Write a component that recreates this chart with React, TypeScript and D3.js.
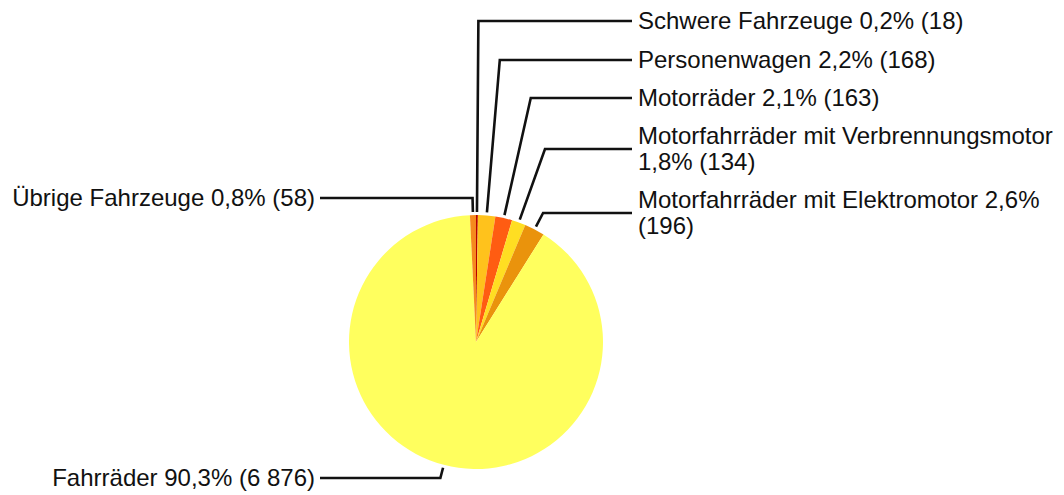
import React, { useEffect, useRef } from 'react';
import * as d3 from 'd3';

// Slices in drawing order, clockwise from 12 o'clock
const categories = [
  'Schwere Fahrzeuge',
  'Personenwagen',
  'Motorräder',
  'Motorfahrräder mit Verbrennungsmotor',
  'Motorfahrräder mit Elektromotor',
  'Fahrräder',
  'Übrige Fahrzeuge',
];
const counts = [18, 168, 163, 134, 196, 6876, 58];
const percents = ['0,2%', '2,2%', '2,1%', '1,8%', '2,6%', '90,3%', '0,8%'];
const countLabels = ['18', '168', '163', '134', '196', '6 876', '58'];

const colors = ['#b80000', '#ffc21c', '#ff5c12', '#ffde22', '#ea930c', '#ffff5e', '#f58a1e'];

// label layout: side, y of the leader line, and text lines
const labelLayout = [
  { side: 'right', y: 21, lines: [`${categories[0]} ${percents[0]} (${countLabels[0]})`] },
  { side: 'right', y: 60, lines: [`${categories[1]} ${percents[1]} (${countLabels[1]})`] },
  { side: 'right', y: 98, lines: [`${categories[2]} ${percents[2]} (${countLabels[2]})`] },
  { side: 'right', y: 149, lines: [categories[3], `${percents[3]} (${countLabels[3]})`] },
  { side: 'right', y: 213, lines: [`${categories[4]} ${percents[4]}`, `(${countLabels[4]})`] },
  { side: 'left', y: 478, lines: [`${categories[5]} ${percents[5]} (${countLabels[5]})`] },
  { side: 'left', y: 198, lines: [`${categories[6]} ${percents[6]} (${countLabels[6]})`] },
];

const App = () => {
  const ref = useRef<SVGSVGElement>(null);

  useEffect(() => {
    const svg = d3.select(ref.current);
    svg.selectAll('*').remove();

    const cx = 476, cy = 342, r = 127;
    const g = svg.append('g').attr('transform', `translate(${cx},${cy})`);

    const pie = d3.pie<number>().sort(null).value(d => d);
    const arcs = pie(counts);
    const arc = d3.arc<d3.PieArcDatum<number>>().innerRadius(0).outerRadius(r);

    g.selectAll('path.slice')
      .data(arcs)
      .enter()
      .append('path')
        .attr('class', 'slice')
        .attr('d', arc)
        .attr('fill', (d, i) => colors[i]);

    // leader lines: start just outside the rim, run radially to the label row, then horizontal
    const fontSize = 24;
    const lineGap = 26;
    arcs.forEach((d, i) => {
      const lay = labelLayout[i];
      const a = (d.startAngle + d.endAngle) / 2;
      const x0 = (r + 3) * Math.sin(a);
      const y0 = -(r + 3) * Math.cos(a);
      const yl = lay.y - cy;
      const xe = (-yl / Math.cos(a)) * Math.sin(a);
      const xEnd = lay.side === 'right' ? 632 - cx : 320 - cx;
      g.append('path')
        .attr('d', d3.line()([[x0, y0], [xe, yl], [xEnd, yl]]))
        .attr('fill', 'none')
        .attr('stroke', '#111')
        .attr('stroke-width', 2.6);

      const tx = lay.side === 'right' ? 638 - cx : 315 - cx;
      const first = yl - ((lay.lines.length - 1) * lineGap) / 2 + 8;
      const text = g.append('text')
        .attr('x', tx)
        .attr('text-anchor', lay.side === 'right' ? 'start' : 'end')
        .attr('font-family', '"Liberation Sans", Arial, sans-serif')
        .attr('font-size', fontSize)
        .attr('fill', '#111');
      lay.lines.forEach((t, j) => {
        text.append('tspan')
          .attr('x', tx)
          .attr('y', first + j * lineGap)
          .text(t);
      });
    });
  }, []);

  return (
    <svg
      ref={ref}
      width={1064}
      height={495}
      style={{ position: 'absolute', left: 0, top: 0, background: '#fff' }}
    />
  );
};

export default App;
